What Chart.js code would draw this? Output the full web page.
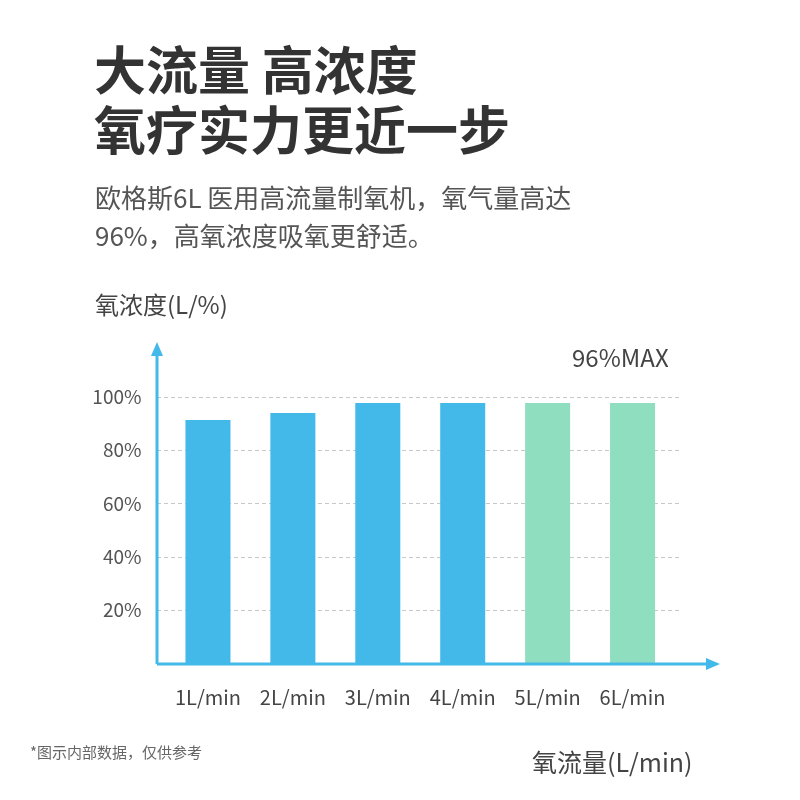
<!DOCTYPE html>
<html><head><meta charset="utf-8">
<script src="https://cdn.jsdelivr.net/npm/chart.js@4"></script>
<style>
body{margin:0;background:#fff;font-family:"Noto Sans CJK SC","Noto Sans",sans-serif;}
#wrap{position:relative;width:800px;height:800px;}
canvas{position:absolute;left:0;top:0;}
.t{position:absolute;white-space:nowrap;}
</style></head><body>
<div id="wrap">
<canvas id="c" width="800" height="800"></canvas>
<div class="t" style="left:94px;top:38px;font-size:52px;font-weight:bold;color:#333;line-height:60px;">大流量 高浓度<br>氧疗实力更近一步</div>
<div class="t" style="left:95px;top:178px;font-size:26px;color:#555;line-height:38px;">欧格斯6L 医用高流量制氧机，氧气量高达<br>96%，高氧浓度吸氧更舒适。</div>
<div class="t" style="left:95px;top:286px;font-size:24px;color:#444;">氧浓度(L/%)</div>
<div class="t" style="left:572px;top:339px;font-size:24px;color:#444;">96%MAX</div>
<div class="t" style="left:30px;top:741px;font-size:15px;color:#666;">*图示内部数据，仅供参考</div>
<div class="t" style="left:532px;top:743px;font-size:25px;color:#444;">氧流量(L/min)</div>
</div>
<script>
const categories=["1L/min","2L/min","3L/min","4L/min","5L/min","6L/min"];
const values=[91.4,94,97.7,97.7,97.7,97.7];
const barColors=["#42b9e9","#42b9e9","#42b9e9","#42b9e9","#90dec0","#90dec0"];
const yTicks=[20,40,60,80,100];
const deco={id:'deco',beforeDatasetsDraw(ch){
  const c=ch.ctx,y=ch.scales.y;
  c.save();c.strokeStyle='#c8c8c8';c.lineWidth=1;c.setLineDash([4,3]);
  yTicks.forEach(v=>{const p=Math.round(y.getPixelForValue(v))+0.5;c.beginPath();c.moveTo(157,p);c.lineTo(682,p);c.stroke();});
  c.restore();},
 afterDatasetsDraw(ch){
  const c=ch.ctx;c.save();c.strokeStyle='#42b9e9';c.fillStyle='#42b9e9';c.lineWidth=3;
  c.beginPath();c.moveTo(157,664);c.lineTo(157,352);c.moveTo(157,664);c.lineTo(710,664);c.stroke();
  c.beginPath();c.moveTo(157,342);c.lineTo(151,356);c.lineTo(163,356);c.fill();
  c.beginPath();c.moveTo(720,664);c.lineTo(706,658);c.lineTo(706,670);c.fill();
  c.restore();}};
new Chart(document.getElementById('c'),{type:'bar',
 data:{labels:categories,datasets:[{data:values,backgroundColor:barColors,barPercentage:1,categoryPercentage:0.53}]},
 options:{responsive:false,animation:false,
  layout:{padding:{top:397,right:125,left:0,bottom:0}},
  plugins:{legend:{display:false},tooltip:{enabled:false}},
  scales:{
   x:{grid:{display:false},border:{display:false},ticks:{color:'#444',font:{size:20,family:'Noto Sans CJK SC'},padding:14},afterFit(s){s.height=137;}},
   y:{min:0,max:100,grid:{display:false},border:{display:false},
      ticks:{stepSize:20,color:'#555',font:{size:19,family:'Noto Sans CJK SC'},padding:16,callback:v=>v===0?'':v+'%'},
      afterFit(s){s.width=165.5;}}
  }},plugins:[deco]});
</script></body></html>
